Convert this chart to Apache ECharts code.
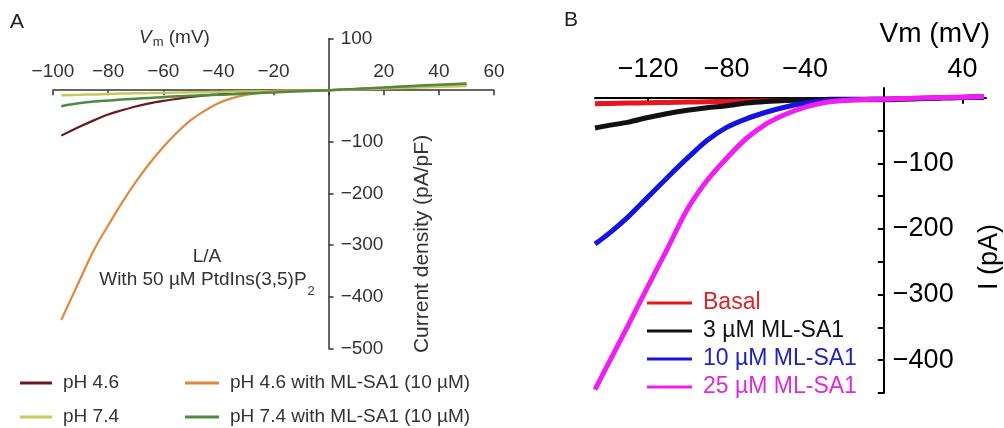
<!DOCTYPE html>
<html><head><meta charset="utf-8">
<script src="https://cdn.jsdelivr.net/npm/echarts@6/dist/echarts.min.js"></script>
<style>html,body{margin:0;padding:0;background:#fff}#c{width:1004px;height:428px}</style>
</head><body><div id="c"></div>
<script>
const FONT = '"Liberation Sans", Arial, sans-serif';

// ---- Panel A data (Vm in mV, current density in pA/pF) ----
const voltsA = [-97,-90,-85,-80,-75,-70,-65,-60,-55,-50,-45,-40,-35,-30,-25,-20,-10,0,10,20,30,40,50];
const pH46    = [-88,-70,-58,-47,-39,-31.5,-25.5,-20.8,-16.8,-13,-10,-8,-6.1,-4.6,-3.4,-2.4,-1,0,2,4,6,8,10];
const pH46ML  = [-445,-364,-308,-262,-218,-178,-142,-110,-82,-58,-40,-25.5,-15.5,-9,-5,-1.8,-0.8,0,2.5,5,7.5,10,12];
const pH74    = [-10,-9,-8.2,-7.3,-6.6,-6,-5.5,-5,-4.6,-4.2,-3.8,-3.4,-3,-2.6,-2.2,-1.8,-0.9,0,1.6,3.2,4.8,6.4,8];
const pH74ML  = [-31,-25,-22,-20,-18,-16.5,-15,-13.5,-12,-11,-10,-9,-8,-6.5,-5.5,-4.5,-2,0,2.5,5,8,10.5,13];
const namesA  = ['pH 4.6','pH 7.4','pH 4.6 with ML-SA1 (10 \u00b5M)','pH 7.4 with ML-SA1 (10 \u00b5M)'];

// ---- Panel B data (Vm in mV, current in pA) ----
const voltsB = [-147,-140,-130,-120,-110,-100,-90,-80,-70,-60,-50,-40,-30,-20,-10,0,10,20,30,40,51];
const basal  = [-9,-8.5,-8,-7.5,-7,-6.5,-6,-5.5,-5,-4.5,-4,-3.5,-3.5,-3,-3,-3,-2,-1,0,1,1.5];
const ml3    = [-46,-42,-37,-30,-24,-19,-15,-12,-8,-5.5,-4,-3,-2.5,-2,-2,-2,-1.5,-1,0,0.5,1];
const ml10   = [-223,-207,-181,-151,-121,-92,-65,-45,-32,-22,-14,-8,-4,-3,-2.5,-2,-1.5,-1,0,0.5,1];
const ml25   = [-445,-404,-346,-287,-229,-170,-126,-92,-62,-40,-25,-14,-7,-4,-2.5,-2,-1,0,0.5,1,2];
const namesB = ['Basal','3 \u00b5M ML-SA1','10 \u00b5M ML-SA1','25 \u00b5M ML-SA1'];

// ---- axis ranges and tick values ----
const xRangeA = [-100, 60], yRangeA = [-500, 100];
const xRangeB = [-147, 52], yRangeB = [-450, 15];
const xLabelsB = [-120,-80,-40,40];
const yLabelsB = [-400,-300,-200,-100];
const yTicksB  = [-450,-400,-350,-300,-250,-200,-150,-100,-50,0];

const minus = v => String(v).replace('-', '\u2212');
const zip = (xs, ys) => xs.map((x, i) => [x, ys[i]]);

const colA = ['#6a1a20', '#c9c95a', '#e0883c', '#4e8a44'];
const colB = ['#e8161c', '#111111', '#1414e0', '#f01ef0'];
const txtB = ['#d8252a', '#111111', '#2222c0', '#d82ed8'];

// grid geometry (layout only)
const gA = {left: 53, top: 38.5, width: 441, height: 310};
const gB = {left: 595, top: 88, width: 391, height: 305};
// offsets that move the top x-axis / right y-axis onto the zero lines
const zeroOffTop = (g, r) => -g.height * (r[1] - 0) / (r[1] - r[0]);
const zeroOffRight = (g, r) => -g.width * (r[1] - 0) / (r[1] - r[0]);

const chart = echarts.init(document.getElementById('c'), null, {renderer: 'canvas'});
const option = {
  animation: false,
  backgroundColor: '#fff',
  textStyle: {fontFamily: FONT},
  grid: [
    Object.assign({outerBoundsMode: 'none', containLabel: false}, gA),
    Object.assign({outerBoundsMode: 'none', containLabel: false}, gB)
  ],
  xAxis: [
    {gridIndex: 0, type: 'value', min: xRangeA[0], max: xRangeA[1], interval: 20, position: 'top',
     offset: zeroOffTop(gA, yRangeA),
     axisLine: {onZero: false, lineStyle: {color: '#333', width: 1.5}},
     axisTick: {inside: true, length: 5, lineStyle: {color: '#333', width: 1.5}},
     axisLabel: {margin: 9, fontSize: 19, color: '#333', fontFamily: FONT,
                 formatter: v => v === 0 ? '' : minus(v)},
     splitLine: {show: false}},
    {gridIndex: 1, type: 'value', min: xRangeB[0], max: xRangeB[1], position: 'top',
     offset: zeroOffTop(gB, yRangeB),
     axisLine: {onZero: false, lineStyle: {color: '#000', width: 2}},
     axisTick: {inside: true, length: 6, customValues: xLabelsB, lineStyle: {color: '#000', width: 2}},
     axisLabel: {margin: 15, fontSize: 27, color: '#000', fontFamily: FONT,
                 customValues: xLabelsB, formatter: v => minus(v)},
     splitLine: {show: false}}
  ],
  yAxis: [
    {gridIndex: 0, type: 'value', min: yRangeA[0], max: yRangeA[1], interval: 100, position: 'right',
     offset: zeroOffRight(gA, xRangeA),
     axisLine: {onZero: false, lineStyle: {color: '#333', width: 1.5}},
     axisTick: {inside: false, length: 5, lineStyle: {color: '#333', width: 1.5}},
     axisLabel: {margin: 12, fontSize: 19, color: '#333', fontFamily: FONT,
                 formatter: v => v === 0 ? '' : minus(v)},
     splitLine: {show: false}},
    {gridIndex: 1, type: 'value', min: yRangeB[0], max: yRangeB[1], position: 'right',
     offset: zeroOffRight(gB, xRangeB),
     axisLine: {onZero: false, lineStyle: {color: '#000', width: 2}},
     axisTick: {inside: true, length: 6, customValues: yTicksB, lineStyle: {color: '#000', width: 2}},
     axisLabel: {margin: 9, fontSize: 27, color: '#000', fontFamily: FONT,
                 customValues: yLabelsB, formatter: v => minus(v)},
     splitLine: {show: false}}
  ],
  legend: [
    {data: [namesA[0], namesA[1]], left: 20, top: 373, orient: 'vertical', padding: 0,
     icon: 'rect', itemWidth: 32, itemHeight: 3, itemGap: 14, selectedMode: false,
     textStyle: {fontSize: 19, color: '#333', lineHeight: 20, fontFamily: FONT, padding: [0, 0, 0, 6]}},
    {data: [namesA[2], namesA[3]], left: 185, top: 373, orient: 'vertical', padding: 0,
     icon: 'rect', itemWidth: 34, itemHeight: 3, itemGap: 14, selectedMode: false,
     textStyle: {fontSize: 19, color: '#333', lineHeight: 20, fontFamily: FONT, padding: [0, 0, 0, 6]}},
    {data: namesB.map((n, i) => ({name: n, textStyle: {color: txtB[i]}})),
     left: 647, top: 290, orient: 'vertical', padding: 0,
     icon: 'rect', itemWidth: 45, itemHeight: 3, itemGap: 2, selectedMode: false,
     textStyle: {fontSize: 23, lineHeight: 26, fontFamily: FONT, padding: [0, 0, 0, 6]}}
  ],
  series: [
    {name: namesA[0], type: 'line', xAxisIndex: 0, yAxisIndex: 0, data: zip(voltsA, pH46),
     showSymbol: false, smooth: 0.35, lineStyle: {color: colA[0], width: 2.2}, itemStyle: {color: colA[0]}},
    {name: namesA[1], type: 'line', xAxisIndex: 0, yAxisIndex: 0, data: zip(voltsA, pH74),
     showSymbol: false, smooth: 0.35, lineStyle: {color: colA[1], width: 2.5}, itemStyle: {color: colA[1]}},
    {name: namesA[2], type: 'line', xAxisIndex: 0, yAxisIndex: 0, data: zip(voltsA, pH46ML),
     showSymbol: false, smooth: 0.35, lineStyle: {color: colA[2], width: 2.2}, itemStyle: {color: colA[2]}},
    {name: namesA[3], type: 'line', xAxisIndex: 0, yAxisIndex: 0, data: zip(voltsA, pH74ML),
     showSymbol: false, smooth: 0.35, lineStyle: {color: colA[3], width: 2.5}, itemStyle: {color: colA[3]}},
    {name: namesB[0], type: 'line', xAxisIndex: 1, yAxisIndex: 1, data: zip(voltsB, basal),
     showSymbol: false, smooth: 0.3, lineStyle: {color: colB[0], width: 5}, itemStyle: {color: colB[0]}},
    {name: namesB[1], type: 'line', xAxisIndex: 1, yAxisIndex: 1, data: zip(voltsB, ml3),
     showSymbol: false, smooth: 0.3, lineStyle: {color: colB[1], width: 5}, itemStyle: {color: colB[1]}},
    {name: namesB[2], type: 'line', xAxisIndex: 1, yAxisIndex: 1, data: zip(voltsB, ml10),
     showSymbol: false, smooth: 0.3, lineStyle: {color: colB[2], width: 5}, itemStyle: {color: colB[2]}},
    {name: namesB[3], type: 'line', xAxisIndex: 1, yAxisIndex: 1, data: zip(voltsB, ml25),
     showSymbol: false, smooth: 0.3, lineStyle: {color: colB[3], width: 5}, itemStyle: {color: colB[3]}}
  ],
  graphic: [
    {type: 'text', left: 10, top: 12, style: {text: 'A', fontSize: 21, fill: '#222', fontFamily: FONT}},
    {type: 'text', left: 564, top: 10, style: {text: 'B', fontSize: 21, fill: '#222', fontFamily: FONT}},
    {type: 'text', x: 139, y: 38, style: {
      text: '{v|V}{s|m}{n| (mV)}', align: 'left', verticalAlign: 'middle',
      rich: {v: {fontSize: 19, fontStyle: 'italic', fill: '#333', fontFamily: FONT},
             s: {fontSize: 13, fill: '#333', padding: [9, 0, 0, 1], fontFamily: FONT},
             n: {fontSize: 19, fill: '#333', fontFamily: FONT}}}},
    {type: 'text', x: 990, y: 34, style: {text: 'Vm (mV)', align: 'right', verticalAlign: 'middle',
      fontSize: 28, fill: '#000', fontFamily: FONT}},
    {type: 'text', x: 422, y: 244, rotation: Math.PI / 2, style: {text: 'Current density (pA/pF)',
      align: 'center', verticalAlign: 'middle', fontSize: 21, fill: '#333', fontFamily: FONT}},
    {type: 'text', x: 990, y: 257, rotation: Math.PI / 2, style: {text: 'I (pA)',
      align: 'center', verticalAlign: 'middle', fontSize: 27, fill: '#000', fontFamily: FONT}},
    {type: 'text', x: 207, y: 257, style: {text: 'L/A', align: 'center', verticalAlign: 'middle',
      fontSize: 19, fill: '#333', fontFamily: FONT}},
    {type: 'text', x: 207, y: 280, style: {
      text: '{n|With 50 \u00b5M PtdIns(3,5)P}{s|2}', align: 'center', verticalAlign: 'middle',
      rich: {n: {fontSize: 19, fill: '#333', fontFamily: FONT},
             s: {fontSize: 13, fill: '#333', padding: [22, 0, 0, 1], fontFamily: FONT}}}}
  ]
};
chart.setOption(option);
</script></body></html>
